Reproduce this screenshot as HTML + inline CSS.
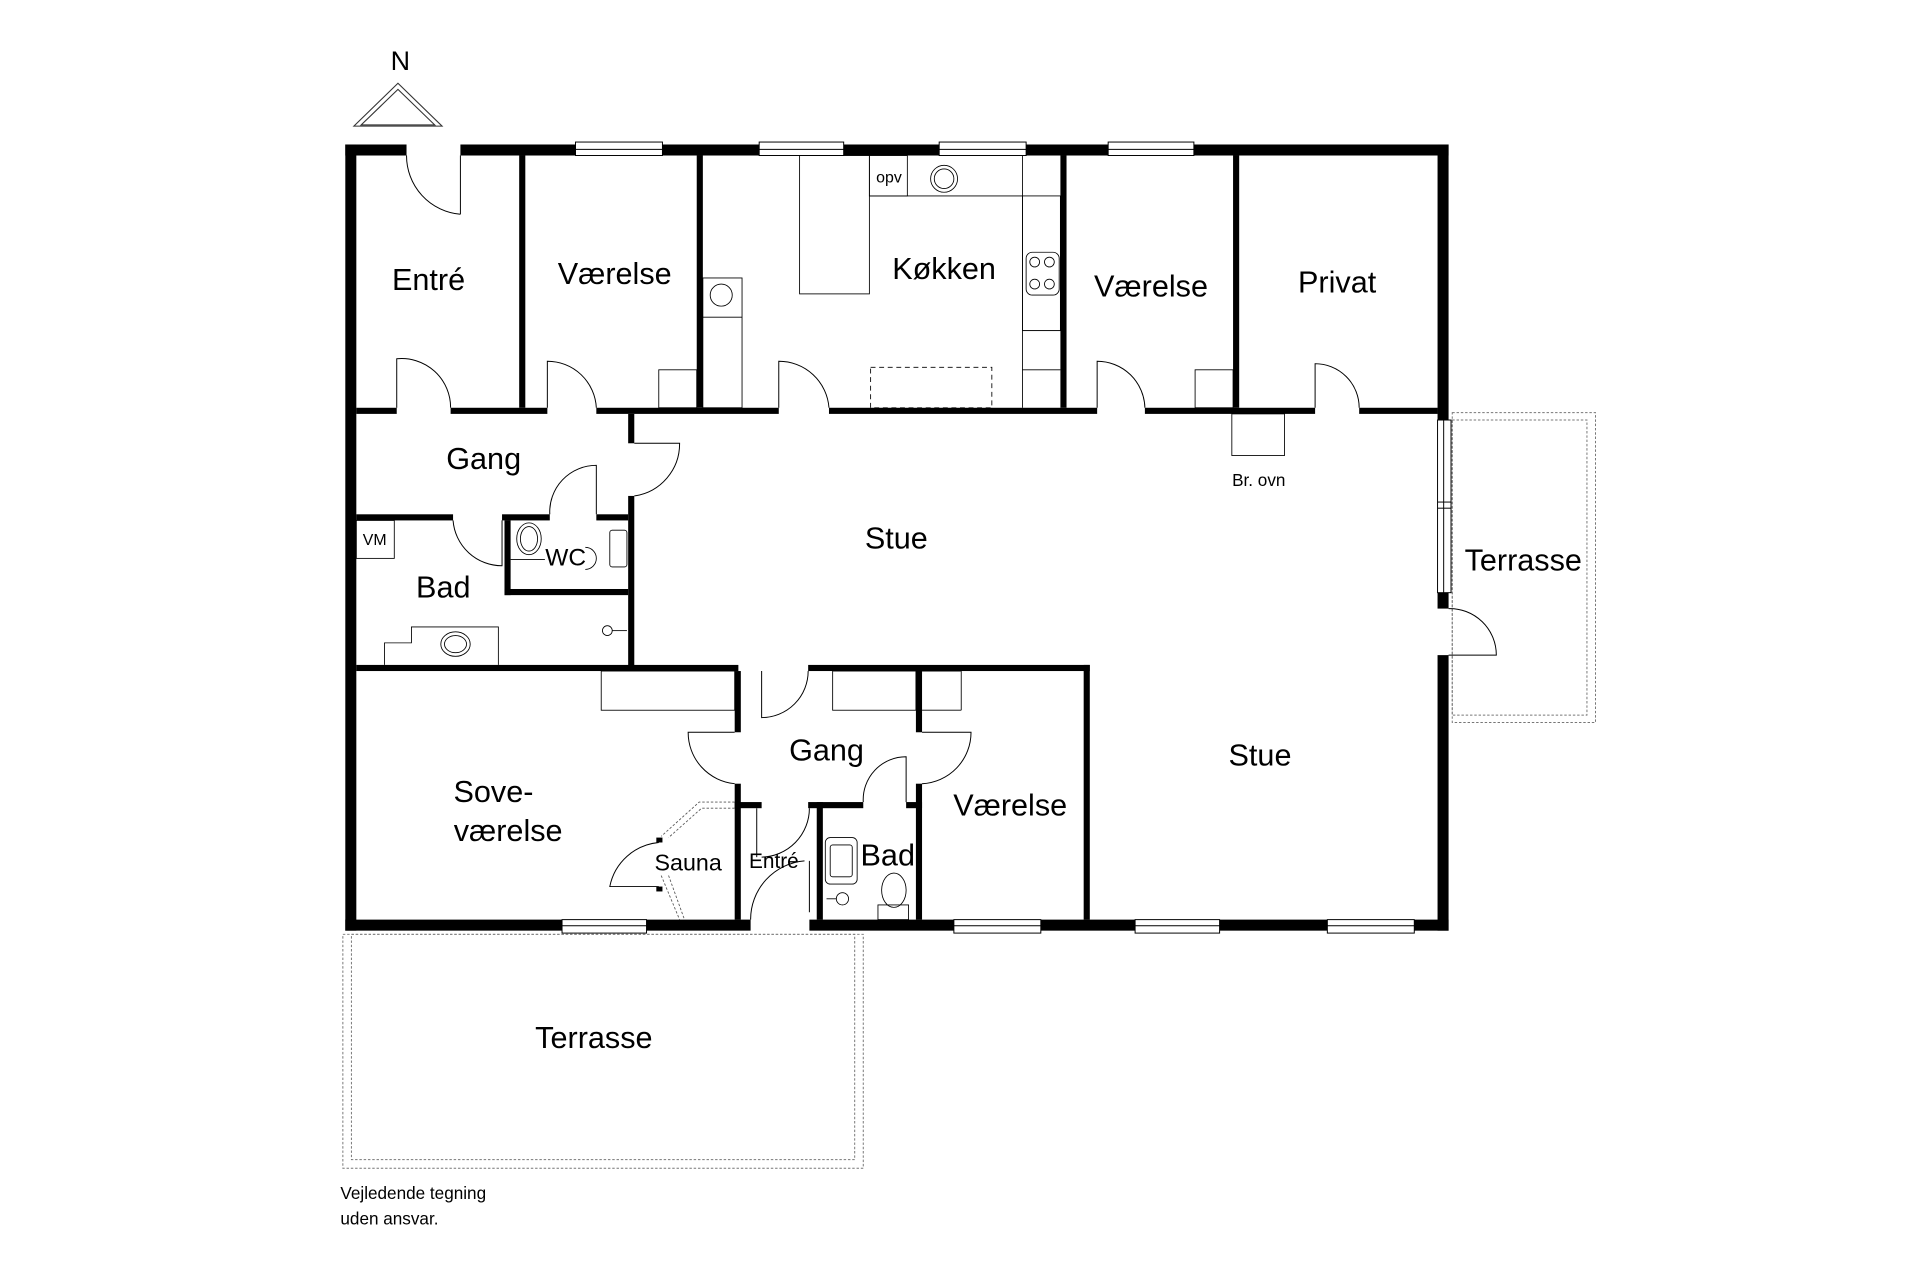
<!DOCTYPE html>
<html><head><meta charset="utf-8"><style>
html,body{margin:0;padding:0;background:#fff;}
svg{display:block;}
text{font-family:"Liberation Sans",sans-serif;fill:#000;}
</style></head><body>
<svg width="1920" height="1280" viewBox="0 0 1568 1045.3" preserveAspectRatio="none" xmlns="http://www.w3.org/2000/svg">
<rect width="1568" height="1046" fill="#fff"/>
<!-- North -->
<text x="327" y="57" font-size="22" text-anchor="middle">N</text>
<polygon points="289,103 325,68 361,103" fill="none" stroke="#333" stroke-width="0.9"/>
<polygon points="295,102 325,73 355,102" fill="none" stroke="#333" stroke-width="0.9"/>
<!-- Terraces -->
<g fill="none" stroke="#777" stroke-width="0.8" stroke-dasharray="2,1.5">
<rect x="1186" y="337" width="117" height="253"/>
<rect x="1186" y="343" width="110" height="241"/>
<rect x="280" y="763" width="425" height="191"/>
<rect x="287" y="763" width="411" height="184"/>
</g>
<!-- Outer walls -->
<g fill="#000">
<rect x="282" y="118" width="50" height="9"/>
<rect x="376" y="118" width="94" height="9"/>
<rect x="541" y="118" width="79" height="9"/>
<rect x="689" y="118" width="78" height="9"/>
<rect x="838" y="118" width="67" height="9"/>
<rect x="975" y="118" width="208" height="9"/>
<rect x="282" y="118" width="9" height="642"/>
<rect x="1174" y="118" width="9" height="225"/>
<rect x="1174" y="484" width="9" height="13"/>
<rect x="1174" y="535" width="9" height="225"/>
<rect x="282" y="751" width="177" height="9"/>
<rect x="528" y="751" width="85" height="9"/>
<rect x="661" y="751" width="118" height="9"/>
<rect x="850" y="751" width="77" height="9"/>
<rect x="996" y="751" width="88" height="9"/>
<rect x="1155" y="751" width="28" height="9"/>
<!-- interior -->
<rect x="424" y="127" width="5" height="206"/>
<rect x="569" y="127" width="5" height="206"/>
<rect x="866" y="127" width="5" height="206"/>
<rect x="1007" y="127" width="5" height="206"/>
<rect x="291" y="333" width="33" height="5"/>
<rect x="368" y="333" width="79" height="5"/>
<rect x="487" y="333" width="149" height="5"/>
<rect x="677" y="333" width="219" height="5"/>
<rect x="935" y="333" width="139" height="5"/>
<rect x="1110" y="333" width="64" height="5"/>
<rect x="513" y="338" width="5" height="24"/>
<rect x="513" y="405" width="5" height="143"/>
<rect x="291" y="420" width="79" height="5"/>
<rect x="410" y="420" width="39" height="5"/>
<rect x="487" y="420" width="26" height="5"/>
<rect x="412" y="425" width="5" height="61"/>
<rect x="412" y="481" width="101" height="5"/>
<rect x="291" y="543" width="312" height="5"/>
<rect x="660" y="543" width="230" height="5"/>
<rect x="600" y="548" width="5" height="50"/>
<rect x="600" y="640" width="5" height="111"/>
<rect x="748" y="548" width="5" height="50"/>
<rect x="748" y="640" width="5" height="111"/>
<rect x="885" y="543" width="5" height="208"/>
<rect x="600" y="655" width="22" height="5"/>
<rect x="660" y="655" width="45" height="5"/>
<rect x="740" y="655" width="13" height="5"/>
<rect x="667" y="655" width="5" height="96"/>
</g>
<!-- windows -->
<g fill="#fff" stroke="#000" stroke-width="0.8">
<rect x="470" y="116" width="71" height="11"/><line x1="470" y1="122" x2="541" y2="122"/>
<rect x="620" y="116" width="69" height="11"/><line x1="620" y1="122" x2="689" y2="122"/>
<rect x="767" y="116" width="71" height="11"/><line x1="767" y1="122" x2="838" y2="122"/>
<rect x="905" y="116" width="70" height="11"/><line x1="905" y1="122" x2="975" y2="122"/>
<rect x="459" y="751" width="69" height="11"/><line x1="459" y1="756" x2="528" y2="756"/>
<rect x="779" y="751" width="71" height="11"/><line x1="779" y1="756" x2="850" y2="756"/>
<rect x="927" y="751" width="69" height="11"/><line x1="927" y1="756" x2="996" y2="756"/>
<rect x="1084" y="751" width="71" height="11"/><line x1="1084" y1="756" x2="1155" y2="756"/>
<rect x="1174" y="343" width="11" height="141"/><line x1="1179" y1="343" x2="1179" y2="484"/>
<line x1="1174" y1="410" x2="1185" y2="410"/><line x1="1174" y1="415" x2="1185" y2="415"/>
</g>
<!-- doors -->
<g fill="none" stroke="#000" stroke-width="0.8">
<path d="M376,127 V175 M376,175 A48,48 0 0 1 332,127"/>
<path d="M324,333 V293 A40,40 0 0 1 368,333"/>
<path d="M447,333 V295 A40,40 0 0 1 487,333"/>
<path d="M636,333 V295 A41,41 0 0 1 677,333"/>
<path d="M896,333 V295 A39,39 0 0 1 935,333"/>
<path d="M1074,333 V297 A36,36 0 0 1 1110,333"/>
<path d="M518,362 H555 A43,43 0 0 1 518,405"/>
<path d="M487,420 V380 A38,38 0 0 0 449,420"/>
<path d="M410,425 V462 A40,40 0 0 1 370,425"/>
<path d="M622,548 V586 A38,38 0 0 0 660,548"/>
<path d="M600,598 H562 A42,42 0 0 0 600,640"/>
<path d="M753,598 H793 A42,42 0 0 1 753,640"/>
<path d="M740,655 V618 A35,35 0 0 0 705,655"/>
<path d="M661,745 V703 M661,660 A40,40 0 0 1 622,700 M618,660 V700"/>
<path d="M613,751 A48,48 0 0 1 657,703"/>
<path d="M1183,497 A38,38 0 0 1 1222,535 H1183"/>
</g>
<!-- furniture -->
<g fill="none" stroke="#000" stroke-width="0.7">
<rect x="653" y="127" width="57" height="113"/>
<path d="M710,160 H835 V333 M835,160 V127"/>
<rect x="710" y="127" width="31" height="33"/>
<rect x="835" y="160" width="31" height="110"/>
<line x1="835" y1="270" x2="866" y2="270"/><line x1="835" y1="302" x2="866" y2="302"/>
<rect x="574" y="227" width="32" height="106"/>
<line x1="574" y1="259" x2="606" y2="259"/>
<circle cx="589" cy="241" r="9"/>
<rect x="711" y="300" width="99" height="33" stroke-dasharray="4,3"/>
<circle cx="771" cy="146" r="11"/><circle cx="771" cy="146" r="8"/>
<rect x="838" y="206" width="27" height="35" rx="5"/>
<circle cx="845" cy="214" r="4"/><circle cx="857" cy="214" r="4"/><circle cx="845" cy="232" r="4"/><circle cx="857" cy="232" r="4"/>
<rect x="538" y="302" width="31" height="31"/>
<rect x="976" y="302" width="31" height="31"/>
<rect x="1006" y="338" width="43" height="34"/>
<rect x="291" y="425" width="31" height="31"/>
<path d="M314,543 V525 H336 V512 H407 V543"/>
<ellipse cx="372" cy="526" rx="12" ry="10"/><ellipse cx="372" cy="526" rx="9" ry="7"/>
<ellipse cx="432" cy="440" rx="10" ry="13"/><ellipse cx="432" cy="440" rx="7" ry="10"/>
<path d="M417,457 H445"/>
<rect x="498" y="433" width="14" height="30" rx="2"/>
<path d="M478,447 A9,9 0 0 1 478,465"/>
<circle cx="496" cy="515" r="4"/><line x1="500" y1="515" x2="512" y2="515"/>
<rect x="491" y="548" width="109" height="32"/>
<rect x="680" y="548" width="68" height="32"/><line x1="748" y1="548" x2="785" y2="548"/><line x1="785" y1="548" x2="785" y2="580"/><line x1="753" y1="580" x2="785" y2="580"/>
<rect x="674" y="684" width="26" height="38" rx="4"/><rect x="678" y="690" width="18" height="26" rx="2"/>
<circle cx="688" cy="734" r="5"/><line x1="675" y1="734" x2="683" y2="734"/>
<ellipse cx="730" cy="727" rx="10" ry="14"/>
<rect x="717" y="739" width="25" height="12"/>
</g>
<!-- sauna -->
<g fill="none" stroke="#555" stroke-width="0.7" stroke-dasharray="2,1.5">
<path d="M600,655 H571 L540,683"/>
<path d="M600,660 H573 L546,684"/>
<path d="M540,715 L555,751 M546,715 L559,751"/>
</g>
<g fill="none" stroke="#000" stroke-width="0.8">
<path d="M538,688 A45,45 0 0 0 498,724 H538"/>
</g>
<rect x="536" y="684" width="5" height="4" fill="#000"/>
<rect x="536" y="724" width="5" height="4" fill="#000"/>
<!-- labels -->
<g font-size="25" text-anchor="middle">
<text x="350" y="237">Entré</text>
<text x="502" y="232">Værelse</text>
<text x="771" y="228">Køkken</text>
<text x="940" y="242">Værelse</text>
<text x="1092" y="239">Privat</text>
<text x="395" y="383">Gang</text>
<text x="732" y="448">Stue</text>
<text x="362" y="488">Bad</text>
<text x="1244" y="466">Terrasse</text>
<text x="1029" y="625">Stue</text>
<text x="675" y="621">Gang</text>
<text x="403" y="655">Sove-</text>
<text x="415" y="687">værelse</text>
<text x="725" y="707">Bad</text>
<text x="825" y="666">Værelse</text>
<text x="485" y="856">Terrasse</text>
</g>
<text x="462" y="462" font-size="20" text-anchor="middle">WC</text>
<text x="562" y="711" font-size="19" text-anchor="middle">Sauna</text>
<text x="632" y="709" font-size="17" text-anchor="middle">Entré</text>
<text x="306" y="445" font-size="13" text-anchor="middle">VM</text>
<text x="726" y="149" font-size="13" text-anchor="middle">opv</text>
<text x="1028" y="397" font-size="14" text-anchor="middle">Br. ovn</text>
<text x="278" y="979" font-size="14">Vejledende tegning</text>
<text x="278" y="1000" font-size="14">uden ansvar.</text>
</svg>
</body></html>
